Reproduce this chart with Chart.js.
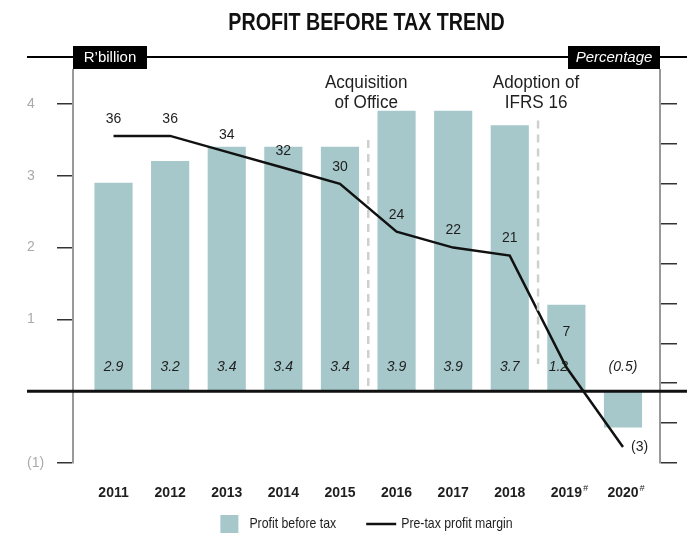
<!DOCTYPE html>
<html>
<head>
<meta charset="utf-8">
<script src="https://cdn.jsdelivr.net/npm/chart.js@4/dist/chart.umd.min.js"></script>
<style>
  html, body { margin: 0; padding: 0; background: #fff; }
  canvas { display: block; }
</style>
</head>
<body>
<canvas id="grafico" width="687" height="538"></canvas>
<script>
// Datos del gráfico
const years = ['2011', '2012', '2013', '2014', '2015', '2016', '2017', '2018', '2019', '2020'];
const yearNotes = ['', '', '', '', '', '', '', '', '#', '#'];
const profit = [2.9, 3.2, 3.4, 3.4, 3.4, 3.9, 3.9, 3.7, 1.2, -0.5];
const margin = [36, 36, 34, 32, 30, 24, 22, 21, 7, -3];
const leftTicks = [-1, 0, 1, 2, 3, 4];
const rightTicks = [-5, 0, 5, 10, 15, 20, 25, 30, 35, 40];
// events sit between two years (index 4.5 = between 2015 and 2016)
const eventAt = [4.5, 7.5];
const eventText = [['Acquisition', 'of Office'], ['Adoption of', 'IFRS 16']];
const title = 'PROFIT BEFORE TAX TREND';

const REG = '"Liberation Sans", Arial, sans-serif';
const BAR_COLOR = '#a6c8ca';
const INK = '#1e1e1e';

function fmt(v) {
  return v < 0 ? '(' + Math.abs(v) + ')' : String(v);
}

// no narrow font installed: squeeze text horizontally
function narrowText(ctx, text, px, py, align, sx) {
  ctx.save();
  ctx.translate(px, py);
  ctx.scale(sx, 1);
  ctx.textAlign = align;
  ctx.fillText(text, 0, 0);
  ctx.restore();
  return ctx.measureText(text).width * sx;
}

// Decoraciones: título, cabecera, línea de cero, eventos, etiquetas y leyenda
const decor = {
  id: 'decor',
  afterDraw(chart) {
    const ctx = chart.ctx;
    const { x, y, y1 } = chart.scales;
    const area = chart.chartArea;
    const yZero = y.getPixelForValue(0);
    const midX = (area.left + area.right) / 2;

    ctx.save();
    ctx.textBaseline = 'middle';

    // title
    ctx.fillStyle = '#111';
    ctx.font = 'bold 24px ' + REG;
    narrowText(ctx, title, midX, 23, 'center', 0.82);

    // header rule with the two black tabs
    ctx.strokeStyle = '#000';
    ctx.lineWidth = 2;
    ctx.beginPath();
    ctx.moveTo(27, 57);
    ctx.lineTo(687, 57);
    ctx.stroke();

    ctx.fillStyle = '#000';
    ctx.fillRect(area.left, 46, 74, 23);
    ctx.fillRect(area.right - 92, 46, 92, 23);
    ctx.fillStyle = '#fff';
    ctx.textAlign = 'center';
    ctx.font = '15px ' + REG;
    ctx.fillText('R\u2019billion', area.left + 37, 58);
    ctx.font = 'italic 15px ' + REG;
    ctx.fillText('Percentage', area.right - 46, 58);

    // axis lines continue up to the tabs
    ctx.strokeStyle = '#999';
    ctx.lineWidth = 2;
    ctx.beginPath();
    ctx.moveTo(area.left, 69);
    ctx.lineTo(area.left, area.top);
    ctx.moveTo(area.right, 69);
    ctx.lineTo(area.right, area.top);
    ctx.stroke();

    // zero line
    ctx.strokeStyle = '#111';
    ctx.lineWidth = 3;
    ctx.beginPath();
    ctx.moveTo(27, yZero);
    ctx.lineTo(687, yZero);
    ctx.stroke();

    // event markers
    const eventSpan = [[0.05, 3.5], [0.38, 3.77]];
    eventAt.forEach((at, i) => {
      const px = x.getPixelForValue(at);
      ctx.strokeStyle = '#cfcfcf';
      ctx.lineWidth = 2.5;
      ctx.setLineDash([8, 6]);
      ctx.beginPath();
      ctx.moveTo(px, y.getPixelForValue(eventSpan[i][1]));
      ctx.lineTo(px, y.getPixelForValue(eventSpan[i][0]));
      ctx.stroke();
      ctx.setLineDash([]);
      ctx.fillStyle = INK;
      ctx.font = '18px ' + REG;
      eventText[i].forEach((t, k) => narrowText(ctx, t, px - 2, area.top - 21 + k * 20, 'center', 0.95));
    });

    // bar values
    ctx.fillStyle = INK;
    ctx.font = 'italic 14px ' + REG;
    ctx.textAlign = 'center';
    profit.forEach((v, i) => {
      let px = x.getPixelForValue(i);
      if (i === 8) px -= 8; // se aparta de la línea
      ctx.fillText(fmt(v), px, yZero - 24);
    });

    // line values
    ctx.font = '14px ' + REG;
    margin.forEach((v, i) => {
      const px = x.getPixelForValue(i);
      const py = y1.getPixelForValue(v);
      if (v < 0) {
        ctx.textAlign = 'left';
        ctx.fillText(fmt(v), px + 8, py);
      } else {
        ctx.textAlign = 'center';
        ctx.fillText(fmt(v), px, py - (i === 8 ? 35 : 17));
      }
    });

    // footnote marks on the year labels
    ctx.font = 'bold 14px ' + REG;
    const labelY = x.top + 22 + 8;
    years.forEach((yr, i) => {
      if (!yearNotes[i]) return;
      const w = ctx.measureText(yr).width;
      ctx.save();
      ctx.font = 'italic 9px ' + REG;
      ctx.textAlign = 'left';
      ctx.fillText(yearNotes[i], x.getPixelForValue(i) + w / 2 + 1, labelY - 5);
      ctx.restore();
    });

    // legend
    const barSet = chart.data.datasets[1];
    const lineSet = chart.data.datasets[0];
    const sx = 0.82;
    ctx.font = '15px ' + REG;
    const w1 = ctx.measureText(barSet.label).width * sx;
    const w2 = ctx.measureText(lineSet.label).width * sx;
    const total = 18 + 11 + w1 + 30 + 30 + 5 + w2;
    let lx = midX - total / 2;
    const ly = 524;
    ctx.fillStyle = barSet.backgroundColor;
    ctx.fillRect(lx, ly - 9, 18, 18);
    lx += 18 + 11;
    ctx.fillStyle = INK;
    narrowText(ctx, barSet.label, lx, ly, 'left', sx);
    lx += w1 + 30;
    ctx.strokeStyle = lineSet.borderColor;
    ctx.lineWidth = 2.5;
    ctx.beginPath();
    ctx.moveTo(lx, ly);
    ctx.lineTo(lx + 30, ly);
    ctx.stroke();
    lx += 30 + 5;
    narrowText(ctx, lineSet.label, lx, ly, 'left', sx);

    ctx.restore();
  }
};

const canvas = document.getElementById('grafico');
new Chart(canvas, {
  data: {
    datasets: [
      {
        type: 'line',
        label: 'Pre-tax profit margin',
        data: years.map((_, i) => ({ x: i, y: margin[i] })),
        yAxisID: 'y1',
        borderColor: '#111',
        borderWidth: 2.5,
        pointRadius: 0,
        tension: 0,
        order: 0
      },
      {
        type: 'bar',
        label: 'Profit before tax',
        data: years.map((_, i) => ({ x: i, y: profit[i] })),
        yAxisID: 'y',
        backgroundColor: BAR_COLOR,
        barThickness: 37.5,
        order: 1
      }
    ]
  },
  options: {
    responsive: false,
    animation: false,
    layout: { padding: { left: 27, right: 0, top: 104, bottom: 0 } },
    plugins: {
      legend: { display: false },
      tooltip: { enabled: false },
      title: { display: false }
    },
    scales: {
      x: {
        type: 'linear',
        offset: false,
        min: -0.716,
        max: 9.654,
        afterBuildTicks: (axis) => { axis.ticks = years.map((_, i) => ({ value: i })); },
        afterFit: (axis) => { axis.height = 75; },
        ticks: {
          autoSkip: false,
          maxRotation: 0,
          padding: 22,
          color: INK,
          font: { family: REG, size: 14, weight: 'bold' },
          callback: (v) => years[v]
        },
        grid: { display: false, drawTicks: false },
        border: { display: false }
      },
      y: {
        position: 'left',
        min: -1,
        max: 4,
        afterBuildTicks: (axis) => { axis.ticks = leftTicks.map((v) => ({ value: v })); },
        afterFit: (axis) => { axis.width = 46; },
        ticks: {
          crossAlign: 'far',
          color: '#aaa',
          font: { family: REG, size: 14 },
          callback: (v) => (v === 0 ? '' : fmt(v))
        },
        grid: { drawOnChartArea: false, tickLength: 16, color: '#333', lineWidth: 1.5 },
        border: { color: '#999', width: 2 }
      },
      y1: {
        position: 'right',
        min: -5,
        max: 40,
        afterBuildTicks: (axis) => { axis.ticks = rightTicks.map((v) => ({ value: v })); },
        afterFit: (axis) => { axis.width = 27; },
        ticks: { display: false },
        grid: { drawOnChartArea: false, tickLength: 17, color: '#333', lineWidth: 1.5 },
        border: { color: '#999', width: 2 }
      }
    }
  },
  plugins: [decor]
});
</script>
</body>
</html>
